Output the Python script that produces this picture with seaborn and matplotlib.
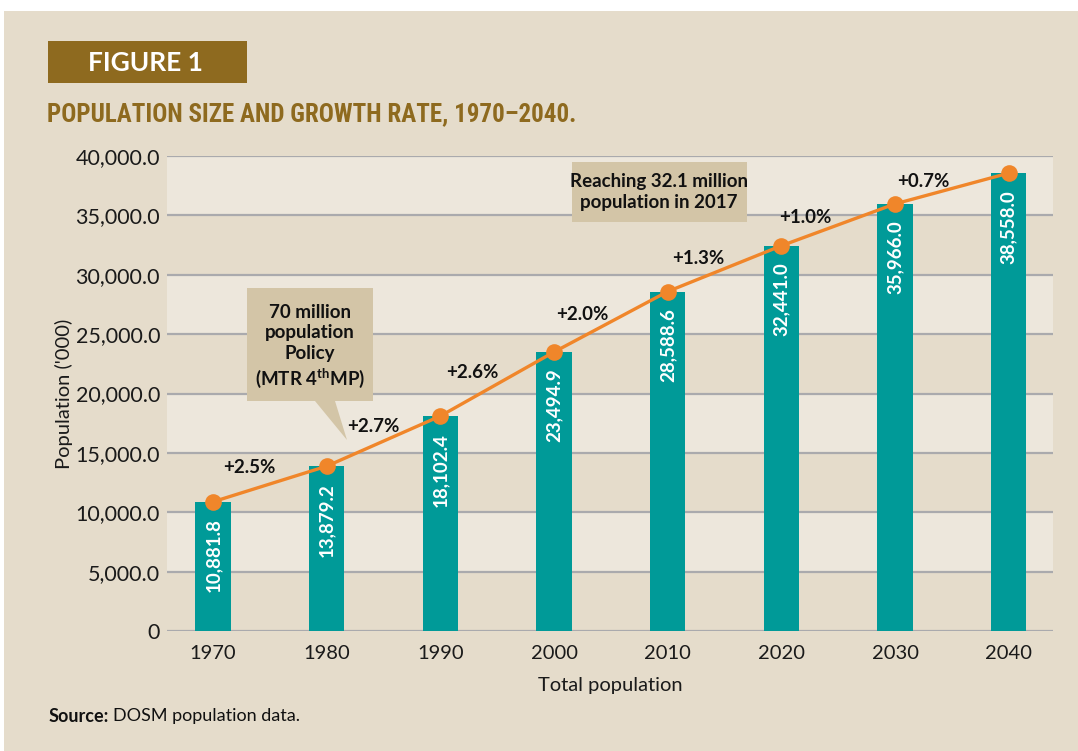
import matplotlib
matplotlib.use("Agg")
import matplotlib.pyplot as plt
import seaborn as sns
import pandas as pd
from matplotlib.patches import Rectangle, Polygon

# ---- data ----
years = ["1970", "1980", "1990", "2000", "2010", "2020", "2030", "2040"]
population = [10881.8, 13879.2, 18102.4, 23494.9, 28588.6, 32441.0, 35966.0, 38558.0]
growth_labels = ["+2.5%", "+2.7%", "+2.6%", "+2.0%", "+1.3%", "+1.0%", "+0.7%"]
y_ticks = [0, 5000, 10000, 15000, 20000, 25000, 30000, 35000, 40000]

# ---- layout for annotation text (data coords) ----
growth_pos_x = [0.32, 1.41, 2.28, 3.25, 4.27, 5.21, 6.25]
growth_pos_y = [13810, 17180, 21810, 26690, 31410, 34860, 37890]

BG = "#E5DCCB"
BAND = "#EDE7DC"
TEAL = "#009A98"
ORANGE = "#F0862A"
BROWN = "#8E6A1F"
CALLOUT = "#D3C5A7"
GRID = "#AAAAAD"
INK = "#111111"

sns.set_theme(style="white")
plt.rcParams["font.family"] = ["Lato", "DejaVu Sans"]
plt.rcParams["mathtext.fontset"] = "custom"
plt.rcParams["mathtext.bf"] = "Lato:bold"
plt.rcParams["mathtext.rm"] = "Lato"

df = pd.DataFrame({"year": years, "pop": population})

fig = plt.figure(figsize=(10.78, 7.51), dpi=100)
fig.patch.set_facecolor("white")
fig.patches.append(Rectangle((4 / 1078, 0), 1 - 4 / 1078, 1 - 11 / 751, transform=fig.transFigure,
                             facecolor=BG, edgecolor="none", zorder=-10))

ax = fig.add_axes([167 / 1078, 1 - 631 / 751, (1053 - 167) / 1078, (631 - 156) / 751])
ax.set_facecolor(BG)
ax.patch.set_alpha(0)

# alternating bands
for i in range(len(y_ticks) - 1):
    if i % 2 == 1:
        ax.axhspan(y_ticks[i], y_ticks[i + 1], facecolor=BAND, edgecolor="none", zorder=0)
for t in y_ticks:
    ax.axhline(t, color=GRID, lw=1.6, zorder=1)

sns.barplot(data=df, x="year", y="pop", color=TEAL, width=0.31, saturation=1, linewidth=0,
            ax=ax, zorder=2)
xs = list(range(len(years)))
sns.lineplot(x=xs, y=population, color=ORANGE, lw=2.4, marker="o", markersize=12,
             markeredgewidth=0, ax=ax, zorder=4)

ax.set_xlim(-0.405, 7.39)
ax.set_ylim(0, 40000)
ax.set_yticks(y_ticks)
ax.set_yticklabels(["0"] + [f"{t:,.1f}" for t in y_ticks[1:]])
ax.tick_params(axis="x", length=0, labelsize=14.5, colors="#1a1a1a", pad=10)
ax.tick_params(axis="y", length=0, labelsize=15.5, colors="#1a1a1a", pad=5)
for s in ax.spines.values():
    s.set_visible(False)
ax.set_xlabel("Total population", fontsize=14.5, labelpad=11, color="#1a1a1a")
ax.set_ylabel("Population ('000)", fontsize=14.5, labelpad=2, color="#1a1a1a")

# bar value labels
for i, v in enumerate(population):
    ax.annotate(f"{v:,.1f}", xy=(i, v), xytext=(0, -12), textcoords="offset points",
                rotation=90, ha="center", va="top", color="white", fontsize=13.5,
                fontweight="bold", zorder=5)

# growth labels
for lab, gx, gy in zip(growth_labels, growth_pos_x, growth_pos_y):
    ax.text(gx, gy, lab, ha="center", va="center", fontsize=13.5, fontweight="bold",
            color=INK, zorder=6)


def fx(px):
    return px / 1078


def fy(py):
    return 1 - py / 751


# callout 1
fig.patches.append(Polygon([(fx(247), fy(288)), (fx(373), fy(288)), (fx(373), fy(401)),
                            (fx(335), fy(401)), (fx(347), fy(440)), (fx(315), fy(401)),
                            (fx(247), fy(401))], closed=True, transform=fig.transFigure,
                           facecolor=CALLOUT, edgecolor="none", zorder=3))
fig.text(fx(310), fy(347), "70 million\npopulation\nPolicy\n(MTR 4$^{\\mathbf{th}}$MP)",
         ha="center", va="center", fontsize=13.5, fontweight="bold", color=INK,
         linespacing=1.25, zorder=7)

# callout 2
fig.patches.append(Rectangle((fx(572), fy(222)), fx(747) - fx(572), fy(162) - fy(222),
                             transform=fig.transFigure, facecolor=CALLOUT, edgecolor="none", zorder=3))
fig.text(fx(659), fy(192), "Reaching 32.1 million\npopulation in 2017", ha="center", va="center",
         fontsize=13.5, fontweight="bold", color=INK, linespacing=1.3, zorder=7)

# header
fig.patches.append(Rectangle((fx(48), fy(83)), fx(247) - fx(48), fy(41) - fy(83),
                             transform=fig.transFigure, facecolor=BROWN, edgecolor="none", zorder=3))
fig.text(fx(88), fy(63), "FIGURE 1", ha="left", va="center", fontsize=19, fontweight="bold",
         color="white", zorder=7)
fig.text(fx(47), fy(114), "POPULATION SIZE AND GROWTH RATE, 1970\u20132040.", ha="left", va="center",
         fontsize=18, fontweight="bold", fontstretch="condensed", color=BROWN,
         family=["Roboto Condensed", "Open Sans", "DejaVu Sans"], zorder=7)

# source
src_bold = fig.text(fx(49), fy(716), "Source:", ha="left", va="center", fontsize=13,
                    fontweight="bold", color=INK)
fig.canvas.draw()
bb = src_bold.get_window_extent()
fig.text((bb.x1 + 4) / fig.bbox.width, fy(716), "DOSM population data.", ha="left", va="center",
         fontsize=13, color=INK)

fig.savefig("out.png", dpi=100, facecolor=fig.get_facecolor())
